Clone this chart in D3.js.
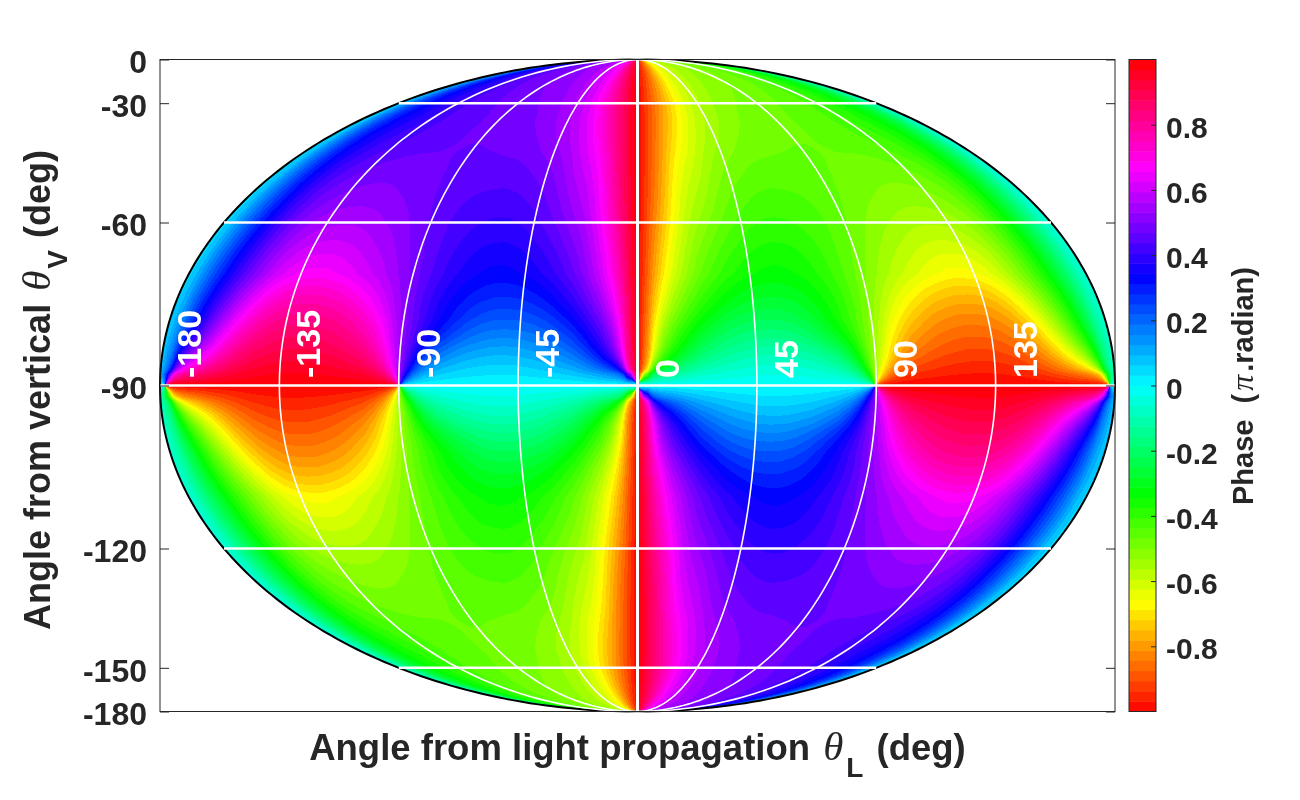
<!DOCTYPE html>
<html>
<head>
<meta charset="utf-8">
<script src="https://cdn.jsdelivr.net/npm/d3@7"></script>
<style>
  html, body { margin: 0; padding: 0; background: #fff; }
  #wrap { position: relative; width: 1300px; height: 800px; }
  #wrap canvas, #wrap svg { position: absolute; left: 0; top: 0; }
  text { font-family: "Liberation Sans", Arial, sans-serif; font-weight: bold; fill: #262626; }
</style>
</head>
<body>
<div id="wrap"></div>
<script>
// data
var thetaL = d3.range(-180, 181, 10);
var thetaV = [0, -15, -30, -40, -50, -60, -70, -75, -80, -85, -90, -95, -100, -105, -110, -120, -130, -140, -150, -165, -180];

// phase in pi.radian, one row per thetaV, one column per thetaL (null = phase singularity)
var phase = [
  [.03,.2,.32,.38,.43,.46,.48,.5,.51,.53,.54,.56,.58,.6,.65,.7,.8,.9,1,-.9,-.8,-.7,-.65,-.6,-.58,-.56,-.54,-.53,-.51,-.5,-.48,-.46,-.43,-.38,-.32,-.2,-.03],
  [.05,.22,.33,.38,.42,.45,.47,.49,.5,.52,.53,.54,.56,.58,.62,.66,.78,.9,1,-.9,-.78,-.66,-.62,-.58,-.56,-.54,-.53,-.52,-.5,-.49,-.47,-.45,-.42,-.38,-.33,-.22,-.05],
  [.03,.2,.3,.35,.39,.43,.45,.46,.47,.48,.49,.5,.52,.55,.59,.67,.77,.88,1,-.88,-.77,-.67,-.59,-.55,-.52,-.5,-.49,-.48,-.47,-.46,-.45,-.43,-.39,-.35,-.3,-.2,-.03],
  [.02,.2,.32,.37,.41,.43,.45,.46,.47,.47,.48,.49,.5,.53,.56,.62,.72,.85,1,-.85,-.72,-.62,-.56,-.53,-.5,-.49,-.48,-.47,-.47,-.46,-.45,-.43,-.41,-.37,-.32,-.2,-.02],
  [.02,.2,.34,.43,.47,.49,.49,.48,.47,.46,.45,.45,.45,.47,.5,.57,.63,.82,1,-.82,-.63,-.57,-.5,-.47,-.45,-.45,-.45,-.46,-.47,-.48,-.49,-.49,-.47,-.43,-.34,-.2,-.02],
  [.02,.2,.36,.48,.54,.55,.55,.53,.5,.46,.43,.41,.4,.41,.45,.51,.58,.77,1,-.77,-.58,-.51,-.45,-.41,-.4,-.41,-.43,-.46,-.5,-.53,-.55,-.55,-.54,-.48,-.36,-.2,-.02],
  [.02,.24,.41,.55,.65,.68,.66,.61,.56,.49,.42,.36,.33,.33,.36,.42,.52,.68,1,-.68,-.52,-.42,-.36,-.33,-.33,-.36,-.42,-.49,-.56,-.61,-.66,-.68,-.65,-.55,-.41,-.24,-.02],
  [.02,.28,.48,.65,.76,.78,.77,.72,.62,.5,.39,.32,.28,.27,.29,.35,.45,.62,1,-.62,-.45,-.35,-.29,-.27,-.28,-.32,-.39,-.5,-.62,-.72,-.77,-.78,-.76,-.65,-.48,-.28,-.02],
  [.02,.33,.58,.76,.84,.86,.85,.81,.72,.52,.38,.27,.2,.19,.2,.25,.35,.52,1,-.52,-.35,-.25,-.2,-.19,-.2,-.27,-.38,-.52,-.72,-.81,-.85,-.86,-.84,-.76,-.58,-.33,-.02],
  [.02,.52,.74,.87,.92,.93,.92,.89,.82,.55,.22,.12,.09,.08,.1,.14,.22,.42,1,-.42,-.22,-.14,-.1,-.08,-.09,-.12,-.22,-.55,-.82,-.89,-.92,-.93,-.92,-.87,-.74,-.52,-.02],
  [null,1,1,1,1,1,1,1,1,null,0,0,0,0,0,0,0,0,null,0,0,0,0,0,0,0,0,null,1,1,1,1,1,1,1,1,null],
  [-.02,-.52,-.74,-.87,-.92,-.93,-.92,-.89,-.82,-.55,-.22,-.12,-.09,-.08,-.1,-.14,-.22,-.42,1,.42,.22,.14,.1,.08,.09,.12,.22,.55,.82,.89,.92,.93,.92,.87,.74,.52,.02],
  [-.02,-.33,-.58,-.76,-.84,-.86,-.85,-.81,-.72,-.52,-.38,-.27,-.2,-.19,-.2,-.25,-.35,-.52,1,.52,.35,.25,.2,.19,.2,.27,.38,.52,.72,.81,.85,.86,.84,.76,.58,.33,.02],
  [-.02,-.28,-.48,-.65,-.76,-.78,-.77,-.72,-.62,-.5,-.39,-.32,-.28,-.27,-.29,-.35,-.45,-.62,1,.62,.45,.35,.29,.27,.28,.32,.39,.5,.62,.72,.77,.78,.76,.65,.48,.28,.02],
  [-.02,-.24,-.41,-.55,-.65,-.68,-.66,-.61,-.56,-.49,-.42,-.36,-.33,-.33,-.36,-.42,-.52,-.68,1,.68,.52,.42,.36,.33,.33,.36,.42,.49,.56,.61,.66,.68,.65,.55,.41,.24,.02],
  [-.02,-.2,-.36,-.48,-.54,-.55,-.55,-.53,-.5,-.46,-.43,-.41,-.4,-.41,-.45,-.51,-.58,-.77,1,.77,.58,.51,.45,.41,.4,.41,.43,.46,.5,.53,.55,.55,.54,.48,.36,.2,.02],
  [-.02,-.2,-.34,-.43,-.47,-.49,-.49,-.48,-.47,-.46,-.45,-.45,-.45,-.47,-.5,-.57,-.63,-.82,1,.82,.63,.57,.5,.47,.45,.45,.45,.46,.47,.48,.49,.49,.47,.43,.34,.2,.02],
  [-.02,-.2,-.32,-.37,-.41,-.43,-.45,-.46,-.47,-.47,-.48,-.49,-.5,-.53,-.56,-.62,-.72,-.85,1,.85,.72,.62,.56,.53,.5,.49,.48,.47,.47,.46,.45,.43,.41,.37,.32,.2,.02],
  [-.03,-.2,-.3,-.35,-.39,-.43,-.45,-.46,-.47,-.48,-.49,-.5,-.52,-.55,-.59,-.67,-.77,-.88,1,.88,.77,.67,.59,.55,.52,.5,.49,.48,.47,.46,.45,.43,.39,.35,.3,.2,.03],
  [-.05,-.22,-.33,-.38,-.42,-.45,-.47,-.49,-.5,-.52,-.53,-.54,-.56,-.58,-.62,-.66,-.78,-.9,1,.9,.78,.66,.62,.58,.56,.54,.53,.52,.5,.49,.47,.45,.42,.38,.33,.22,.05],
  [-.03,-.2,-.32,-.38,-.43,-.46,-.48,-.5,-.51,-.53,-.54,-.56,-.58,-.6,-.65,-.7,-.8,-.9,1,.9,.8,.7,.65,.6,.58,.56,.54,.53,.51,.5,.48,.46,.43,.38,.32,.2,.03]
];

var lonLabels = [-180, -135, -90, -45, 0, 45, 90, 135];
var meridians = [-135, -90, -45, 0, 45, 90, 135];
var parallels = [-30, -60, -90, -120, -150];
var vTicks = [0, -30, -60, -90, -120, -150, -180];
var barTicks = [-0.8, -0.6, -0.4, -0.2, 0, 0.2, 0.4, 0.6, 0.8];
var nLevels = 64;

var width = 1300, height = 800;
var plot = { left: 160, right: 1115, top: 59.5, bottom: 711.5 };

// x is thetaL * cos(latitude), y is sin(latitude): meridians come out as half ellipses
var x = d3.scaleLinear().domain([-180, 180]).range([plot.left, plot.right]);
var y = d3.scaleLinear().domain([-1, 1]).range([plot.bottom, plot.top]);
var bar = d3.scaleLinear().domain([-1, 1]).range([plot.bottom, plot.top]);

var rad = Math.PI / 180;
function px(lon, v) { return x(lon * Math.sin(-v * rad)); }
function py(v) { return y(Math.cos(v * rad)); }

// hsv wheel: -1 red, -2/3 yellow, -1/3 green, 0 cyan, 1/3 blue, 2/3 magenta, 1 red
function levelOf(p) {
  return Math.max(0, Math.min(nLevels - 1, Math.floor((p + 1) / 2 * nLevels)));
}
var levelRgb = d3.range(nLevels).map(k => d3.hsl((k + 0.5) / nLevels * 360, 1, 0.5).rgb());

var colIndex = d3.scaleLinear().domain(thetaL).range(d3.range(thetaL.length));
var rowIndex = d3.scaleLinear().domain(thetaV).range(d3.range(thetaV.length));

// phases as unit vectors so the wrap at +-1 stays clean
var gridX = phase.map(row => row.map(p => p === null ? 0 : Math.cos(p * Math.PI)));
var gridY = phase.map(row => row.map(p => p === null ? 0 : Math.sin(p * Math.PI)));
var lastC = thetaL.length - 1, lastR = thetaV.length - 1;

// bilinear lookup smoothed over a 3x3 neighbourhood, it rounds off the cell corners
var offsets = [-0.4, 0, 0.4];
function phaseAt(lon, v) {
  var c = colIndex(lon), r = rowIndex(v);
  var sx = 0, sy = 0;
  for (var a = 0; a < 3; a++) {
    var rr = Math.max(0, Math.min(lastR, r + offsets[a]));
    var r0 = Math.min(Math.floor(rr), lastR - 1), fr = rr - r0;
    for (var b = 0; b < 3; b++) {
      var cc = Math.max(0, Math.min(lastC, c + offsets[b]));
      var c0 = Math.min(Math.floor(cc), lastC - 1), fc = cc - c0;
      sx += (1 - fr) * ((1 - fc) * gridX[r0][c0] + fc * gridX[r0][c0 + 1]) + fr * ((1 - fc) * gridX[r0 + 1][c0] + fc * gridX[r0 + 1][c0 + 1]);
      sy += (1 - fr) * ((1 - fc) * gridY[r0][c0] + fc * gridY[r0][c0 + 1]) + fr * ((1 - fc) * gridY[r0 + 1][c0] + fc * gridY[r0 + 1][c0 + 1]);
    }
  }
  return Math.atan2(sy, sx) / Math.PI;
}

var wrap = d3.select("#wrap");

// filled map, one pixel at a time
var canvas = wrap.append("canvas").attr("width", width).attr("height", height);
var ctx = canvas.node().getContext("2d");
var img = ctx.createImageData(width, height);
for (var j = Math.floor(plot.top); j <= plot.bottom; j++) {
  var sinLat = y.invert(j + 0.5);
  if (Math.abs(sinLat) >= 1) continue;
  var cosLat = Math.sqrt(1 - sinLat * sinLat);
  var v = -Math.acos(sinLat) / rad;
  for (var i = plot.left; i <= plot.right; i++) {
    var lon = x.invert(i + 0.5) / cosLat;
    if (Math.abs(lon) > 180) continue;
    var col = levelRgb[levelOf(phaseAt(lon, v))];
    var n = (j * width + i) * 4;
    img.data[n] = col.r; img.data[n + 1] = col.g; img.data[n + 2] = col.b; img.data[n + 3] = 255;
  }
}
ctx.putImageData(img, 0, 0);

var svg = wrap.append("svg").attr("width", width).attr("height", height);

// graticule
var curve = d3.line().x(d => d[0]).y(d => d[1]);
var steps = d3.range(0, -180.5, -1);

svg.append("path")
  .attr("d", curve(steps.map(v => [px(-180, v), py(v)]).concat(steps.slice().reverse().map(v => [px(180, v), py(v)]))) + "Z")
  .attr("fill", "none")
  .attr("stroke", "#000")
  .attr("stroke-width", 2);

svg.selectAll(".meridian")
  .data(meridians)
  .enter()
  .append("path")
  .attr("class", "meridian")
  .attr("d", d => curve(steps.map(v => [px(d, v), py(v)])))
  .attr("fill", "none")
  .attr("stroke", "#fff")
  .attr("stroke-width", d => d === 0 ? 3 : 1.6);

svg.selectAll(".parallel")
  .data(parallels)
  .enter()
  .append("line")
  .attr("class", "parallel")
  .attr("x1", d => px(-180, d))
  .attr("x2", d => px(180, d))
  .attr("y1", d => py(d))
  .attr("y2", d => py(d))
  .attr("stroke", "#fff")
  .attr("stroke-width", 2.4);

svg.selectAll(".lon-label")
  .data(lonLabels)
  .enter()
  .append("text")
  .attr("class", "lon-label")
  .attr("transform", d => `translate(${x(d) + 41}, 378) rotate(-90)`)
  .attr("font-size", 34)
  .style("fill", "#fff")
  .text(d => d);

// box and axes
svg.append("rect")
  .attr("x", plot.left)
  .attr("y", plot.top)
  .attr("width", plot.right - plot.left)
  .attr("height", plot.bottom - plot.top)
  .attr("fill", "none")
  .attr("stroke", "#262626")
  .attr("stroke-width", 1);

var vScale = d3.scaleLinear().domain([-1, 1]).range([plot.bottom, plot.top]);
var vValues = vTicks.map(v => Math.cos(v * rad));

var leftAxis = svg.append("g")
  .attr("transform", `translate(${plot.left}, 0)`)
  .call(d3.axisLeft(vScale).tickValues(vValues).tickSizeInner(-9).tickSizeOuter(0).tickPadding(13)
    .tickFormat((d, i) => vTicks[i]));
leftAxis.selectAll("text").attr("font-size", 32).attr("font-family", null).attr("dy", "0.42em");

var rightAxis = svg.append("g")
  .attr("transform", `translate(${plot.right}, 0)`)
  .call(d3.axisRight(vScale).tickValues(vValues).tickSizeInner(-9).tickSizeOuter(0).tickFormat(""));

svg.selectAll(".domain").attr("stroke", "none");
svg.selectAll(".tick line").attr("stroke", "#262626");

// colour bar
var levels = d3.range(nLevels);
var barX = 1129, barW = 27;
svg.selectAll(".level")
  .data(levels)
  .enter()
  .append("rect")
  .attr("class", "level")
  .attr("x", barX)
  .attr("width", barW)
  .attr("y", d => bar(-1 + (d + 1) / nLevels * 2))
  .attr("height", (plot.bottom - plot.top) / nLevels + 0.5)
  .attr("fill", d => levelRgb[d].formatHex());

svg.append("rect")
  .attr("x", barX)
  .attr("y", plot.top)
  .attr("width", barW)
  .attr("height", plot.bottom - plot.top)
  .attr("fill", "none")
  .attr("stroke", "#262626");

var barAxis = svg.append("g")
  .attr("transform", `translate(${barX + barW}, 0)`)
  .call(d3.axisRight(bar).tickValues(barTicks).tickSizeInner(-5).tickSizeOuter(0).tickPadding(10)
    .tickFormat(d => d));
barAxis.select(".domain").attr("stroke", "none");
barAxis.selectAll(".tick line").attr("stroke", "#262626");
barAxis.selectAll("text").attr("font-size", 30).attr("font-family", null).attr("dy", "0.42em");

// axis titles, theta and pi are the thin italic serif glyphs of the original
function greek(sel, ch, dx, size) {
  sel.append("tspan")
    .attr("font-family", "Liberation Serif")
    .attr("font-style", "italic")
    .attr("font-weight", "normal")
    .attr("font-size", size)
    .attr("dx", dx)
    .text(ch);
}

var xTitle = svg.append("text")
  .attr("x", 637.5)
  .attr("y", 760)
  .attr("text-anchor", "middle")
  .attr("font-size", 36.5);
xTitle.append("tspan").text("Angle from light propagation ");
greek(xTitle, "\u03b8", 3, 41);
xTitle.append("tspan").attr("dx", 3).attr("dy", 17).attr("font-size", 28).text("L");
xTitle.append("tspan").attr("dx", 3).attr("dy", -17).text(" (deg)");

var yTitle = svg.append("text")
  .attr("transform", "translate(50, 390) rotate(-90)")
  .attr("text-anchor", "middle")
  .attr("font-size", 36);
yTitle.append("tspan").text("Angle from vertical ");
greek(yTitle, "\u03b8", 3, 41);
yTitle.append("tspan").attr("dx", 2).attr("dy", 17).attr("font-size", 28).text("V");
yTitle.append("tspan").attr("dx", 2).attr("dy", -17).text(" (deg)");

var barTitle = svg.append("text")
  .attr("transform", "translate(1253, 386) rotate(-90)")
  .attr("text-anchor", "middle")
  .attr("font-size", 29);
barTitle.append("tspan").text("Phase ");
barTitle.append("tspan").attr("dx", 8).text("(");
greek(barTitle, "\u03c0", 3, 32);
barTitle.append("tspan").attr("dx", 3).text(".radian)");
</script>
</body>
</html>
